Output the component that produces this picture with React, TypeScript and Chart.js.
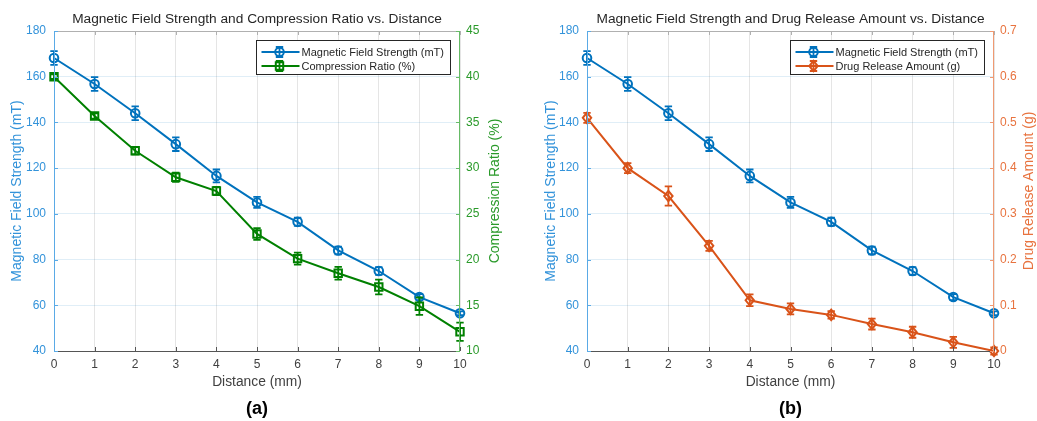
import React, { useEffect, useRef } from "react";
import { Chart, registerables } from "chart.js";

Chart.register(...registerables);

// ---- data ----
const distances = [0, 1, 2, 3, 4, 5, 6, 7, 8, 9, 10];
const magneticField = [168.2, 156.8, 144, 130.5, 116.6, 105, 96.5, 84, 75, 63.6, 56.5];
const magneticErr = [3, 3, 3, 3, 2.8, 2.4, 1.8, 1.7, 1.7, 1.3, 0.8];
const compressionRatio = [40, 35.7, 31.9, 29, 27.5, 22.8, 20.1, 18.5, 17, 14.9, 12.1];
const compressionErr = [0.25, 0.3, 0.4, 0.5, 0.45, 0.65, 0.65, 0.7, 0.8, 0.95, 1.0];
const drugRelease = [0.51, 0.4, 0.339, 0.23, 0.111, 0.092, 0.079, 0.059, 0.041, 0.019, 0];
const drugErr = [0.011, 0.011, 0.021, 0.011, 0.013, 0.012, 0.008, 0.012, 0.012, 0.012, 0.008];

const FONT = "'Liberation Sans', Arial, Helvetica, sans-serif";
const BLUE = "#0072BD";
const BLUE_TEXT = "#3393da";
const BLUE_AXIS = "#5aaae6";

type Panel = {
  canvasWidth: number;
  plotLeft: number;
  plotRight: number;
  leftTitleX: number;
  rightTitleX: number;
  title: string;
  caption: string;
  rightLabel: string;
  rightMin: number;
  rightMax: number;
  rightStep: number;
  rightText: string;
  rightAxis: string;
  seriesLabel: string;
  seriesColor: string;
  values: number[];
  errors: number[];
  marker: string;
};

const panels: Panel[] = [
  {
    canvasWidth: 520,
    plotLeft: 54,
    plotRight: 460,
    leftTitleX: 17,
    rightTitleX: 495,
    title: "Magnetic Field Strength and Compression Ratio vs. Distance",
    caption: "(a)",
    rightLabel: "Compression Ratio (%)",
    rightMin: 10,
    rightMax: 45,
    rightStep: 5,
    rightText: "#2a9a2a",
    rightAxis: "#66bb66",
    seriesLabel: "Compression Ratio (%)",
    seriesColor: "#008000",
    values: compressionRatio,
    errors: compressionErr,
    marker: "square",
  },
  {
    canvasWidth: 517,
    plotLeft: 67,
    plotRight: 474,
    leftTitleX: 31,
    rightTitleX: 509,
    title: "Magnetic Field Strength and Drug Release Amount vs. Distance",
    caption: "(b)",
    rightLabel: "Drug Release Amount (g)",
    rightMin: 0,
    rightMax: 0.7,
    rightStep: 0.1,
    rightText: "#e8733f",
    rightAxis: "#f09a72",
    seriesLabel: "Drug Release Amount (g)",
    seriesColor: "#D95319",
    values: drugRelease,
    errors: drugErr,
    marker: "diamond",
  },
];

const PLOT_TOP = 31;
const PLOT_BOTTOM = 351;
const CANVAS_H = 421;

function drawMarker(ctx: CanvasRenderingContext2D, kind: string, x: number, y: number, color: string) {
  ctx.save();
  ctx.strokeStyle = color;
  ctx.lineWidth = 2;
  ctx.beginPath();
  if (kind === "circle") {
    ctx.arc(x, y, 4.3, 0, Math.PI * 2);
  } else if (kind === "square") {
    ctx.rect(x - 3.7, y - 3.7, 7.4, 7.4);
  } else {
    ctx.moveTo(x, y - 5.2);
    ctx.lineTo(x + 4.2, y);
    ctx.lineTo(x, y + 5.2);
    ctx.lineTo(x - 4.2, y);
    ctx.closePath();
  }
  ctx.stroke();
  ctx.restore();
}

function drawErrorBar(ctx: CanvasRenderingContext2D, x: number, y1: number, y2: number, color: string) {
  ctx.save();
  ctx.strokeStyle = color;
  ctx.lineWidth = 1.8;
  ctx.beginPath();
  ctx.moveTo(x, y1);
  ctx.lineTo(x, y2);
  ctx.moveTo(x - 3.7, y1);
  ctx.lineTo(x + 3.7, y1);
  ctx.moveTo(x - 3.7, y2);
  ctx.lineTo(x + 3.7, y2);
  ctx.stroke();
  ctx.restore();
}

function makeConfig(p: Panel): any {
  const series = [
    { label: "Magnetic Field Strength (mT)", color: BLUE, values: magneticField, errors: magneticErr, marker: "circle", axis: "y" },
    { label: p.seriesLabel, color: p.seriesColor, values: p.values, errors: p.errors, marker: p.marker, axis: "y1" },
  ];

  const plugin = {
    id: "matlabLook",
    afterDatasetsDraw(chart: any) {
      const ctx: CanvasRenderingContext2D = chart.ctx;
      const xs = chart.scales.x;
      series.forEach((s) => {
        const ys = chart.scales[s.axis];
        s.values.forEach((v, i) => {
          const px = xs.getPixelForValue(distances[i]);
          const py = ys.getPixelForValue(v);
          drawErrorBar(ctx, px, ys.getPixelForValue(v + s.errors[i]), ys.getPixelForValue(v - s.errors[i]), s.color);
          drawMarker(ctx, s.marker, px, py, s.color);
        });
      });
    },
    afterDraw(chart: any) {
      const ctx: CanvasRenderingContext2D = chart.ctx;
      const a = chart.chartArea;
      const xs = chart.scales.x;
      const yl = chart.scales.y;
      const yr = chart.scales.y1;
      const cx = (a.left + a.right) / 2;
      const cy = (a.top + a.bottom) / 2;
      ctx.save();
      // axes lines
      ctx.lineWidth = 1;
      ctx.strokeStyle = "#b0b0b0";
      ctx.beginPath();
      ctx.moveTo(a.left, a.top + 0.5);
      ctx.lineTo(a.right, a.top + 0.5);
      ctx.stroke();
      ctx.strokeStyle = "#555555";
      ctx.beginPath();
      ctx.moveTo(a.left, a.bottom + 0.5);
      ctx.lineTo(a.right, a.bottom + 0.5);
      ctx.stroke();
      // x ticks inward
      distances.forEach((d) => {
        const px = Math.round(xs.getPixelForValue(d)) + 0.5;
        ctx.strokeStyle = "#555555";
        ctx.beginPath();
        ctx.moveTo(px, a.bottom);
        ctx.lineTo(px, a.bottom - 4);
        ctx.stroke();
        ctx.strokeStyle = "#b0b0b0";
        ctx.beginPath();
        ctx.moveTo(px, a.top);
        ctx.lineTo(px, a.top + 4);
        ctx.stroke();
      });
      // left axis
      ctx.strokeStyle = BLUE_AXIS;
      ctx.beginPath();
      ctx.moveTo(a.left + 0.5, a.top);
      ctx.lineTo(a.left + 0.5, a.bottom);
      ctx.stroke();
      yl.ticks.forEach((t: any) => {
        const py = Math.round(yl.getPixelForValue(t.value)) + 0.5;
        ctx.beginPath();
        ctx.moveTo(a.left, py);
        ctx.lineTo(a.left + 4, py);
        ctx.stroke();
      });
      // right axis
      ctx.strokeStyle = p.rightAxis;
      ctx.beginPath();
      ctx.moveTo(a.right - 0.5, a.top);
      ctx.lineTo(a.right - 0.5, a.bottom);
      ctx.stroke();
      yr.ticks.forEach((t: any) => {
        const py = Math.round(yr.getPixelForValue(t.value)) + 0.5;
        ctx.beginPath();
        ctx.moveTo(a.right, py);
        ctx.lineTo(a.right - 4, py);
        ctx.stroke();
      });

      // titles
      ctx.textAlign = "center";
      ctx.textBaseline = "middle";
      ctx.fillStyle = "#262626";
      ctx.font = `13.7px ${FONT}`;
      ctx.fillText(p.title, cx, 19);
      ctx.fillStyle = "#404040";
      ctx.font = `13.8px ${FONT}`;
      ctx.fillText("Distance (mm)", cx, 382);
      ctx.fillStyle = "#000000";
      ctx.font = `bold 18px ${FONT}`;
      ctx.fillText(p.caption, cx, 409);

      ctx.font = `14px ${FONT}`;
      ctx.save();
      ctx.translate(p.leftTitleX, cy);
      ctx.rotate(-Math.PI / 2);
      ctx.fillStyle = BLUE_TEXT;
      ctx.fillText("Magnetic Field Strength (mT)", 0, 0);
      ctx.restore();
      ctx.save();
      ctx.translate(p.rightTitleX, cy);
      ctx.rotate(-Math.PI / 2);
      ctx.fillStyle = p.rightText;
      ctx.fillText(p.rightLabel, 0, 0);
      ctx.restore();

      // legend
      const bx = a.right - 203.5;
      const by = 40.5;
      const bw = 194;
      const bh = 34;
      ctx.fillStyle = "#ffffff";
      ctx.fillRect(bx, by, bw, bh);
      ctx.strokeStyle = "#262626";
      ctx.lineWidth = 1;
      ctx.strokeRect(bx, by, bw, bh);
      series.forEach((s, i) => {
        const ry = by + 11.5 + i * 14;
        ctx.strokeStyle = s.color;
        ctx.lineWidth = 2;
        ctx.beginPath();
        ctx.moveTo(bx + 5, ry);
        ctx.lineTo(bx + 43, ry);
        ctx.stroke();
        drawErrorBar(ctx, bx + 23, ry - 5, ry + 5, s.color);
        drawMarker(ctx, s.marker, bx + 23, ry, s.color);
        ctx.fillStyle = "#262626";
        ctx.font = `11px ${FONT}`;
        ctx.textAlign = "left";
        ctx.textBaseline = "middle";
        ctx.fillText(s.label, bx + 45, ry + 0.5);
      });
      ctx.restore();
    },
  };

  return {
    type: "line",
    data: {
      datasets: series.map((s) => ({
        label: s.label,
        data: distances.map((d, i) => ({ x: d, y: s.values[i] })),
        yAxisID: s.axis,
        borderColor: s.color,
        borderWidth: 2,
        pointRadius: 0,
        tension: 0,
        fill: false,
        clip: false,
      })),
    },
    options: {
      responsive: false,
      animation: false,
      events: [],
      layout: { padding: { top: PLOT_TOP, bottom: CANVAS_H - PLOT_BOTTOM - 20, left: 0, right: 0 } },
      plugins: {
        legend: { display: false },
        title: { display: false },
        tooltip: { enabled: false },
      },
      scales: {
        x: {
          type: "linear",
          position: "bottom",
          min: 0,
          max: 10,
          ticks: { stepSize: 1, color: "#404040", font: { family: FONT, size: 12 }, padding: 6, maxRotation: 0 },
          grid: { color: "rgba(38,38,38,0.12)", drawTicks: false },
          border: { display: false },
          afterFit: (s: any) => {
            s.height = 20;
          },
        },
        y: {
          type: "linear",
          position: "left",
          min: 40,
          max: 180,
          ticks: { stepSize: 20, color: BLUE_TEXT, font: { family: FONT, size: 12 }, padding: 8 },
          grid: { color: "rgba(0,114,189,0.12)", drawTicks: false },
          border: { display: false },
          afterFit: (s: any) => {
            s.width = p.plotLeft;
          },
        },
        y1: {
          type: "linear",
          position: "right",
          min: p.rightMin,
          max: p.rightMax,
          ticks: { stepSize: p.rightStep, color: p.rightText, font: { family: FONT, size: 12 }, padding: 6 },
          grid: { display: false, drawTicks: false },
          border: { display: false },
          afterFit: (s: any) => {
            s.width = p.canvasWidth - p.plotRight;
          },
        },
      },
    },
    plugins: [plugin],
  };
}

function ChartPanel({ panel, left }: { panel: Panel; left: number }) {
  const ref = useRef<HTMLCanvasElement | null>(null);
  useEffect(() => {
    if (!ref.current) return;
    const chart = new Chart(ref.current, makeConfig(panel));
    return () => chart.destroy();
  }, [panel]);
  return (
    <canvas
      ref={ref}
      width={panel.canvasWidth}
      height={CANVAS_H}
      style={{ position: "absolute", left, top: 0, width: panel.canvasWidth, height: CANVAS_H }}
    />
  );
}

export default function App() {
  return (
    <div style={{ position: "fixed", left: 0, top: 0, width: 1037, height: 421, background: "#ffffff", overflow: "hidden" }}>
      <ChartPanel panel={panels[0]} left={0} />
      <ChartPanel panel={panels[1]} left={520} />
    </div>
  );
}
